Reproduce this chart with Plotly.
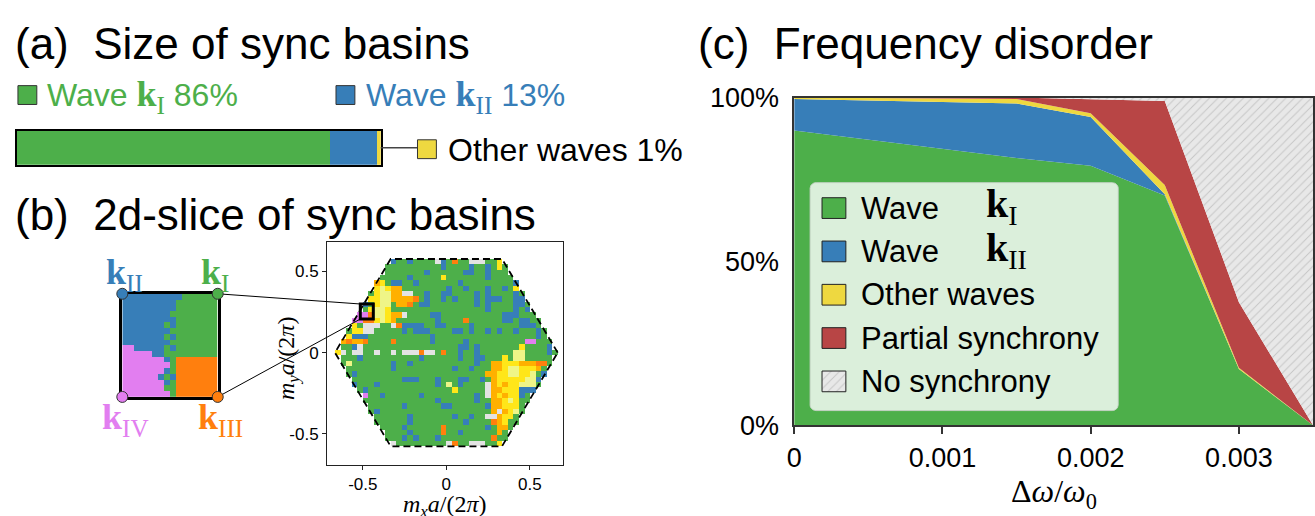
import numpy as np
import plotly.graph_objects as go

W, H = 1315, 516

# ---------------- data ----------------
# (a) relative basin sizes in percent
BASIN_NAMES = ["Wave", "Wave", "Other waves"]
BASIN_SUBS = ["I", "II", ""]
BASIN_PCT = [86, 13, 1]

# (c) basin fractions (percent) vs frequency disorder
DISORDER = [0.0, 0.0015, 0.002, 0.0025, 0.003, 0.0035]
PCT_KI = [90.0, 81.6, 79.2, 70.1, 17.2, 0.0]
PCT_KII = [9.6, 16.6, 14.9, 0.4, 0.0, 0.0]
PCT_OTHER = [0.4, 1.4, 1.1, 2.8, 0.4, 0.0]
PCT_PARTIAL = [0.0, 0.4, 4.3, 25.7, 20.0, 0.0]
PCT_NONE = [0.0, 0.0, 0.5, 1.0, 62.4, 100.0]
STATE_NAMES = ["Wave", "Wave", "Other waves", "Partial synchrony", "No synchrony"]
STATE_SUBS = ["I", "II", "", "", ""]

C_XTICKS = [0, 0.001, 0.002, 0.003]
C_XTICKTEXT = ["0", "0.001", "0.002", "0.003"]
C_YTICKS = [0, 50, 100]
C_YTICKTEXT = ["0%", "50%", "100%"]

HEX_TICKS = [-0.5, 0, 0.5]
HEX_TICKTEXT = ["-0.5", "0", "0.5"]

# (b) 2d slice: cell categories, run-length encoded rows (top row first)
# g=wave kI, b=wave kII, y/l/a/o=other waves, w=no sync, p=wave kIV
HEX_RLE = [
    ".10 b g2 b g4 w b g o g2 w3 g2 y .10",
    ".9 g10 b g4 b g2 b g y g .9",
    ".9 g7 b g6 b2 g2 b g3 .9",
    ".8 g5 b g5 y g7 b g4 .8",
    ".7 a y g b2 g2 b g7 b g9 b .7",
    ".7 y l y a2 g8 b g2 b g3 b g2 b g y .7",
    ".6 g y l2 a2 w2 g2 b g2 b2 g4 b g b g4 b g .6",
    ".6 y2 l2 a4 o g b g2 b g b g3 b g b3 g2 b2 .6",
    ".5 b g y l2 g a2 o g b2 g8 b g b g4 b2 g .5",
    ".5 g y l2 y g17 b g4 b g b .5",
    ".4 p2 o l2 y a2 w g4 b2 g11 b3 g3 .4",
    ".3 p2 o2 y l y a g7 b g4 o g6 b2 g b2 g2 .3",
    ".3 y g w3 g2 w o b4 g2 b2 g4 b g8 b3 g .3",
    ".2 g y2 w2 g5 b g b3 g4 b2 g b g2 b g b g2 b g3 b g .2",
    ".2 y b3 g11 b g18 b g .2",
    ". a o a2 o g4 o g6 b g5 b g10 p2 g3 .",
    ". g2 b w g g16 b2 g b g7 y g4 b .",
    "y w g w2 g2 w g2 w g w3 o w2 g o g2 b g2 b g6 l2 g4 b g",
    ". g3 b g10 b g6 b g2 b2 g3 y g l2 g5 .",
    ". g l g7 b g2 b g11 b g2 a2 y3 a3 o2 g .",
    ".2 g8 b g10 b g2 b g3 a2 y l2 y3 a g .2",
    ".2 g b g23 a2 y2 l2 y2 l g b .2",
    ".3 g9 b3 g3 b g3 b2 g2 b g a y5 l2 b .3",
    ".3 b g3 b g10 b g l g b g4 w a y a y2 l3 g .3",
    ".4 g b g15 y g5 w a2 y3 b3 .4",
    ".5 p g2 b g6 b g9 b g w a y a y2 b g .5",
    ".5 g13 b g6 b g2 a2 y l y g2 .5",
    ".6 g6 b g6 b2 g6 b a2 y3 g .6",
    ".6 g b g20 a w a y l g .6",
    ".7 g6 b g7 b g2 b g2 w2 a y2 g .7",
    ".7 g6 b g9 b g4 o a y g2 .7",
    ".8 g4 b g6 o g7 b g a2 g .8",
    ".9 g4 b g5 o g2 b g6 a g .9",
    ".9 g3 b g b g3 b g9 o g2 .9",
    ".10 w g9 w o g2 w3 g2 y .10",
]
SQUARE_RLE = [
    "b10 g6", "b9 g7", "b9 g7", "b8 g8", "b9 g7", "b7 g b g7",
    "b8 g8", "b7 g b g7", "b8 g8", "p2 b5 g b g7", "p5 b2 g9",
    "p7 b g o7", "p8 g o7", "p7 b g o7", "p6 b g b o7", "p7 b g o7",
    "p7 g2 o7", "p8 g o7",
]
CORNER_SUBS = ["II", "I", "IV", "III"]     # top-left, top-right, bottom-left, bottom-right
HEX_R = 2 / 3                               # hexagon vertex radius
ZOOM_BOX = [-0.515, -0.437, 0.207, 0.300]   # x0, x1, y0, y1 of the zoomed slice

# ---------------- styles ----------------
GREEN, BLUE, YELLOW, RED = "#4daf4a", "#377eb8", "#eed840", "#b84545"
PINK, ORANGE = "#e27ef0", "#ff7f0e"
CODES = "gbylaowp"
CELL_COLORS = [GREEN, BLUE, "#ffe619", "#eff587", "#ffb000", ORANGE, "#e3e3e3", PINK]
FONT = "Liberation Sans, Arial, sans-serif"
SERIF = "Liberation Serif, DejaVu Serif, serif"

# axes boxes in pixels: (x0, x1), (ytop, ybottom)
DOM = {
    "bar": ((9, 375), (123, 159)),
    "sq": ((115, 211), (296, 405.5)),
    "hex": ((321, 558), (240.7, 477.3)),
    "c": ((791, 1313), (87.7, 435.7)),
}
HEX_XR = [-0.714, 0.696]
HEX_YR = [-0.690, 0.684]


def fx(px):
    return px / W


def fy(py):
    return 1 - py / H


def xdom(k):
    a, b = DOM[k][0]
    return [fx(a), fx(b)]


def ydom(k):
    a, b = DOM[k][1]
    return [fy(b), fy(a)]


def data_to_px(key, xr, yr, x, y):
    (x0, x1), (y0, y1) = DOM[key]
    px = x0 + (x - xr[0]) / (xr[1] - xr[0]) * (x1 - x0)
    py = y1 - (y - yr[0]) / (yr[1] - yr[0]) * (y1 - y0)
    return px, py


def decode(rle):
    out = ""
    for tok in rle.split():
        out += tok[0] * (int(tok[1:]) if len(tok) > 1 else 1)
    return out


def grid_z(rows, width):
    z = []
    for r in rows[::-1]:
        s = decode(r).ljust(width, ".")[:width]
        z.append([CODES.index(c) if c in CODES else None for c in s])
    return z


def kbold(sub, size):
    s = f"<sub>{sub}</sub>" if sub else ""
    return f'<span style="font-family:{SERIF};font-size:{size}px"><b>k</b>{s}</span>'


ncode = len(CODES)
CSCALE = []
for i, c in enumerate(CELL_COLORS):
    CSCALE += [[i / ncode, c], [(i + 1) / ncode, c]]

fig = go.Figure()

# ---------- (a) stacked bar ----------
for val, col in zip(BASIN_PCT, [GREEN, BLUE, YELLOW]):
    fig.add_trace(go.Bar(x=[val], y=[0], orientation="h", width=1, marker=dict(color=col, line=dict(width=0)),
                         xaxis="x", yaxis="y", hoverinfo="skip"))

# ---------- (b) small square ----------
SQ_NX = len(decode(SQUARE_RLE[0]))
SQ_NY = len(SQUARE_RLE)
SQ_XR = [0, SQ_NX]
SQ_YR = [0, SQ_NY]
fig.add_trace(go.Heatmap(z=grid_z(SQUARE_RLE, SQ_NX), x=np.arange(SQ_NX) + 0.5, y=np.arange(SQ_NY) + 0.5,
                         colorscale=CSCALE, zmin=-0.5, zmax=ncode - 0.5, showscale=False,
                         xaxis="x2", yaxis="y2", hoverinfo="skip"))
corner_x = [SQ_XR[0], SQ_XR[1], SQ_XR[0], SQ_XR[1]]
corner_y = [SQ_YR[1], SQ_YR[1], SQ_YR[0], SQ_YR[0]]
corner_c = [BLUE, GREEN, PINK, ORANGE]
corner_px = [data_to_px("sq", SQ_XR, SQ_YR, cx, cy) for cx, cy in zip(corner_x, corner_y)]

# ---------- (b) hexagon slice ----------
HEX_NX = 40
HEX_NY = len(HEX_RLE)
hex_hh = HEX_R * np.sqrt(3) / 2
hx = -HEX_R + (np.arange(HEX_NX) + 0.5) * (2 * HEX_R / HEX_NX)
hy = -hex_hh + (np.arange(HEX_NY) + 0.5) * (2 * hex_hh / HEX_NY)
fig.add_trace(go.Heatmap(z=grid_z(HEX_RLE, HEX_NX), x=hx, y=hy, colorscale=CSCALE, zmin=-0.5,
                         zmax=ncode - 0.5, showscale=False, xgap=0, ygap=0,
                         xaxis="x3", yaxis="y3", hoverinfo="skip"))
ang = np.deg2rad(np.arange(0, 361, 60))
fig.add_trace(go.Scatter(x=HEX_R * np.cos(ang), y=HEX_R * np.sin(ang), mode="lines",
                         line=dict(color="black", width=1.8, dash="7px,4px"),
                         xaxis="x3", yaxis="y3", hoverinfo="skip"))

# ---------- (c) stacked areas ----------
series = [(PCT_KI, GREEN), (PCT_KII, BLUE), (PCT_OTHER, YELLOW), (PCT_PARTIAL, RED)]
for vals, col in series:
    fig.add_trace(go.Scatter(x=DISORDER, y=vals, stackgroup="c", mode="lines", line=dict(width=0, color=col),
                             fillcolor=col, xaxis="x4", yaxis="y4", hoverinfo="skip"))
HATCH = dict(shape="/", fgcolor="#a2a2a2", bgcolor="#e8e8e8", size=6, solidity=0.16)
fig.add_trace(go.Scatter(x=DISORDER, y=PCT_NONE, stackgroup="c", mode="lines", line=dict(width=0, color="#e8e8e8"),
                         fillcolor="#e8e8e8", fillpattern=HATCH, xaxis="x4", yaxis="y4", hoverinfo="skip"))

# ---------- overlay (pixel coordinates) ----------
# legend box for (c)
LX0, LX1, LY0, LY1, RAD = 807, 1117, 178, 420, 6
t = np.linspace(0, np.pi / 2, 8)
bx = np.concatenate([LX1 - RAD + RAD * np.sin(t), LX1 - RAD + RAD * np.cos(t),
                     LX0 + RAD - RAD * np.sin(t), LX0 + RAD - RAD * np.cos(t)])
by = np.concatenate([LY0 + RAD - RAD * np.cos(t), LY1 - RAD + RAD * np.sin(t),
                     LY1 - RAD + RAD * np.cos(t), LY0 + RAD - RAD * np.sin(t)])
fig.add_trace(go.Scatter(x=list(bx) + [bx[0]], y=list(by) + [by[0]], mode="lines", fill="toself",
                         fillcolor="rgba(255,255,255,0.8)", line=dict(color="rgba(200,210,200,0.9)", width=1),
                         xaxis="x5", yaxis="y5", hoverinfo="skip"))
LEG_Y = [205, 251, 297, 343, 389]
SW_X0, SW_X1, SW_H = 819, 843, 22
sw_cols = [GREEN, BLUE, YELLOW, RED, "#e8e8e8"]
for i, (yc, col) in enumerate(zip(LEG_Y, sw_cols)):
    kw = dict(fillpattern=HATCH) if i == 4 else {}
    fig.add_trace(go.Scatter(x=[SW_X0, SW_X1, SW_X1, SW_X0, SW_X0],
                             y=[yc - SW_H / 2, yc - SW_H / 2, yc + SW_H / 2, yc + SW_H / 2, yc - SW_H / 2],
                             mode="lines", fill="toself", fillcolor=col, line=dict(color="#222", width=1),
                             xaxis="x5", yaxis="y5", hoverinfo="skip", **kw))

# connector lines from the small square to the zoom box
p_kI = corner_px[1]
p_kIII = corner_px[3]
p_bt = data_to_px("hex", HEX_XR, HEX_YR, ZOOM_BOX[0], ZOOM_BOX[3])
p_bb = data_to_px("hex", HEX_XR, HEX_YR, ZOOM_BOX[0], ZOOM_BOX[2])
for a, b in [(p_kI, p_bt), (p_kIII, p_bb)]:
    fig.add_trace(go.Scatter(x=[a[0], b[0]], y=[a[1], b[1]], mode="lines", line=dict(color="black", width=1),
                             xaxis="x5", yaxis="y5", hoverinfo="skip"))

# corner markers of the small square (drawn above its frame)
fig.add_trace(go.Scatter(x=[p[0] for p in corner_px], y=[p[1] for p in corner_px], mode="markers",
                         cliponaxis=False, marker=dict(size=11, color=corner_c, line=dict(color="#333", width=1)),
                         xaxis="x5", yaxis="y5", hoverinfo="skip"))

# ---------- shapes ----------
shapes = []


def sq_shape(x0, y0, x1, y1, col):
    shapes.append(dict(type="rect", xref="paper", yref="paper", x0=fx(x0), x1=fx(x1), y0=fy(y1), y1=fy(y0),
                       fillcolor=col, line=dict(color="#333", width=1), layer="above"))


sq_shape(10, 75, 29, 95, GREEN)
sq_shape(330, 75, 349, 95, BLUE)
bar_end = DOM["bar"][0][1]
bar_mid = sum(DOM["bar"][1]) / 2
shapes.append(dict(type="line", xref="paper", yref="paper", x0=fx(bar_end), x1=fx(412), y0=fy(bar_mid),
                   y1=fy(bar_mid), line=dict(color="#444", width=1.5), layer="above"))
sq_shape(412, 132.5, 431, 152.5, YELLOW)
shapes.append(dict(type="rect", xref="x3", yref="y3", x0=ZOOM_BOX[0], x1=ZOOM_BOX[1], y0=ZOOM_BOX[2],
                   y1=ZOOM_BOX[3], line=dict(color="black", width=3), layer="above"))

# ---------- annotations ----------
anns = []


def ann(text, px, py, size, color="black", family=FONT, xanchor="left", yanchor="middle", angle=0):
    anns.append(dict(text=text, x=fx(px), y=fy(py), xref="paper", yref="paper", showarrow=False,
                     font=dict(size=size, color=color, family=family), xanchor=xanchor, yanchor=yanchor,
                     textangle=angle))


ann("(a)\u00a0 Size of sync basins", 5, 30, 44)
ann(f"{BASIN_NAMES[0]} {kbold(BASIN_SUBS[0], 36)} {BASIN_PCT[0]}%", 37, 87, 32, GREEN)
ann(f"{BASIN_NAMES[1]} {kbold(BASIN_SUBS[1], 36)} {BASIN_PCT[1]}%", 358, 87, 32, BLUE)
ann(f"{BASIN_NAMES[2]} {BASIN_PCT[2]}%", 441, 143, 32)
ann("(b)\u00a0 2d-slice of sync basins", 5, 212, 44)
ann("(c)\u00a0 Frequency disorder", 692, 30, 44)

offs = [(2, -20), (-3, -20), (3, 24), (3, 24)]
for (px, py), sub, col, (dx, dy) in zip(corner_px, CORNER_SUBS, corner_c, offs):
    ann(kbold(sub, 36), px + dx, py + dy, 36, col, SERIF, xanchor="center")

for name, sub, yc in zip(STATE_NAMES, STATE_SUBS, LEG_Y):
    ann(name, 856, yc, 31)
    if sub:
        ann(kbold(sub, 40), 982, yc - 2, 40, "black", SERIF)

ann("Δ<i>ω</i>/<i>ω</i><sub>0</sub>", sum(DOM["c"][0]) / 2, 484, 32, "black", SERIF, xanchor="center",
    yanchor="top")
ann("<i>m<sub>y</sub>a</i>/(2<i>π</i>)", 282, 364, 24, "black", SERIF, xanchor="center", angle=-90)
ann("<i>m<sub>x</sub>a</i>/(2<i>π</i>)", 440, 503, 24, "black", SERIF, xanchor="center", yanchor="top")

# ---------- layout ----------
base = dict(showgrid=False, zeroline=False, fixedrange=True)
fig.update_layout(
    width=W, height=H, autosize=False, margin=dict(l=0, r=0, t=0, b=0),
    paper_bgcolor="white", plot_bgcolor="rgba(0,0,0,0)", showlegend=False, barmode="stack",
    font=dict(family=FONT, color="black"),
    xaxis=dict(base, domain=xdom("bar"), range=[0, sum(BASIN_PCT)], showline=True, mirror=True,
               linecolor="black", linewidth=1.5, showticklabels=False, ticks="", anchor="y"),
    yaxis=dict(base, domain=ydom("bar"), range=[-0.5, 0.5], showline=True, mirror=True,
               linecolor="black", linewidth=1.5, showticklabels=False, ticks="", anchor="x"),
    xaxis2=dict(base, domain=xdom("sq"), range=SQ_XR, showline=True, mirror=True, linecolor="black",
                linewidth=3, showticklabels=False, ticks="", anchor="y2"),
    yaxis2=dict(base, domain=ydom("sq"), range=SQ_YR, showline=True, mirror=True, linecolor="black",
                linewidth=3, showticklabels=False, ticks="", anchor="x2"),
    xaxis3=dict(base, domain=xdom("hex"), range=HEX_XR, showline=True, mirror=True, linecolor="#222",
                linewidth=1, ticks="outside", ticklen=4, tickcolor="#222", tickvals=HEX_TICKS,
                ticktext=HEX_TICKTEXT, tickfont=dict(size=17), anchor="y3"),
    yaxis3=dict(base, domain=ydom("hex"), range=HEX_YR, showline=True, mirror=True, linecolor="#222",
                linewidth=1, ticks="outside", ticklen=4, tickcolor="#222", tickvals=HEX_TICKS,
                ticktext=HEX_TICKTEXT, tickfont=dict(size=17), anchor="x3"),
    xaxis4=dict(base, domain=xdom("c"), range=[DISORDER[0], DISORDER[-1]], showline=True, mirror=True,
                linecolor="#333", linewidth=1.5, ticks="outside", ticklen=7, tickwidth=1.5, tickcolor="#333",
                tickvals=C_XTICKS, ticktext=C_XTICKTEXT, tickfont=dict(size=27), anchor="y4"),
    yaxis4=dict(base, domain=ydom("c"), range=[0, 100], showline=True, mirror=True, linecolor="#333",
                linewidth=1.5, ticks="", tickvals=C_YTICKS, ticktext=C_YTICKTEXT, tickfont=dict(size=27),
                ticklabelstandoff=8, anchor="x4"),
    xaxis5=dict(base, domain=[0, 1], range=[0, W], visible=False, anchor="y5"),
    yaxis5=dict(base, domain=[0, 1], range=[H, 0], visible=False, anchor="x5"),
    shapes=shapes, annotations=anns,
)

fig.write_html("out.html")
